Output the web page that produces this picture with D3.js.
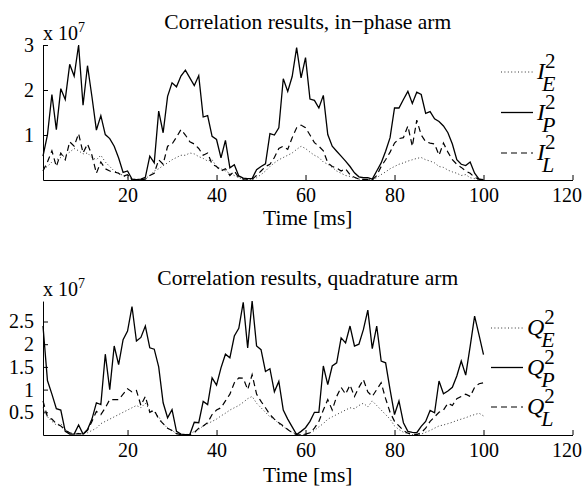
<!DOCTYPE html>
<html>
<head>
<meta charset="utf-8">
<script src="https://cdn.jsdelivr.net/npm/d3@7"></script>
<style>
body { margin: 0; background: #fff; }
svg { display: block; }
svg text { font-family: "Liberation Serif", "Times New Roman", serif; fill: #000; }
.axis path, .axis line { stroke: #000; stroke-width: 1; }
.axis text { font-size: 20px; }
.series { fill: none; stroke: #000; }
.series.E { stroke-width: 1; stroke-dasharray: 1 2.4; stroke: #333; }
.series.P { stroke-width: 1.3; }
.series.L { stroke-width: 1.2; stroke-dasharray: 6 4; }
.title, .xlabel { font-size: 21.5px; }
</style>
</head>
<body>
<div id="chart"></div>
<script>
// sample times [ms]
var time = [1,2,3,4,5,6,7,8,9,10,11,12,13,14,15,16,17,18,19,20,
  21,22,23,24,25,26,27,28,29,30,31,32,33,34,35,36,37,38,39,40,
  41,42,43,44,45,46,47,48,49,50,51,52,53,54,55,56,57,58,59,60,
  61,62,63,64,65,66,67,68,69,70,71,72,73,74,75,76,77,78,79,80,
  81,82,83,84,85,86,87,88,89,90,91,92,93,94,95,96,97,98,99,100];

// in-phase arm, x 10^7
var iE = [0.25,0.3,0.4,0.45,0.5,0.55,0.62,0.7,0.65,0.58,
  0.6,0.5,0.45,0.55,0.4,0.3,0.2,0.15,0.1,0.05,
  0.02,0.01,0.01,0.03,0.1,0.2,0.25,0.32,0.38,0.45,
  0.5,0.55,0.55,0.6,0.58,0.52,0.48,0.42,0.45,0.3,
  0.25,0.2,0.15,0.1,0.05,0.02,0.01,0.01,0.05,0.12,
  0.2,0.3,0.38,0.45,0.5,0.55,0.6,0.68,0.75,0.7,
  0.62,0.55,0.5,0.4,0.35,0.28,0.2,0.15,0.1,0.08,
  0.05,0.02,0.01,0.01,0.01,0.05,0.12,0.18,0.25,0.3,
  0.35,0.38,0.42,0.45,0.48,0.5,0.45,0.42,0.38,0.3,
  0.28,0.22,0.18,0.15,0.1,0.12,0.05,0.03,0.01,0.0];
var iP = [0.53,1.0,1.9,1.12,2.03,1.79,2.57,2.31,3.0,1.66,
  2.54,1.85,1.11,1.43,1.01,0.92,0.75,0.49,0.17,0.2,
  0.02,0.01,0.02,0.06,0.53,0.38,1.53,1.05,1.86,2.16,
  2.07,2.31,2.44,2.27,2.1,2.32,1.4,1.43,0.97,0.9,
  0.49,0.88,0.27,0.34,0.09,0.04,0.03,0.03,0.23,0.3,
  0.36,1.03,1.0,1.16,2.25,1.97,2.3,2.94,2.27,2.72,
  1.8,1.77,1.6,1.88,1.01,0.75,0.64,0.53,0.42,0.3,
  0.16,0.07,0.05,0.05,0.02,0.2,0.38,0.64,0.94,1.6,
  1.6,1.79,1.97,1.7,1.95,1.9,1.48,1.52,1.36,1.3,
  1.2,1.05,0.8,0.45,0.35,0.32,0.4,0.15,0.02,0.01];
var iL = [0.2,0.4,0.65,0.3,0.6,0.45,0.85,0.75,1.03,0.6,
  0.8,0.55,0.15,0.4,0.25,0.2,0.18,0.15,0.08,0.12,
  0.0,0.0,0.01,0.02,0.1,0.15,0.45,0.35,0.75,0.8,
  0.95,1.12,1.0,0.85,0.8,0.7,0.55,0.6,0.35,0.3,
  0.2,0.25,0.1,0.2,0.05,0.02,0.02,0.02,0.1,0.2,
  0.3,0.35,0.5,0.7,0.75,0.68,0.94,1.16,1.22,1.16,
  1.0,0.83,0.75,0.65,0.38,0.3,0.27,0.2,0.25,0.12,
  0.06,0.02,0.01,0.01,0.0,0.1,0.3,0.45,0.62,0.82,
  0.92,0.94,1.2,0.75,1.33,1.0,0.85,0.82,0.8,0.55,
  0.82,0.62,0.45,0.35,0.28,0.2,0.15,0.06,0.02,0.0];

// quadrature arm, x 10^7
var qE = [0.6,0.4,0.3,0.22,0.25,0.12,0.05,0.02,0.04,0.02,
  0.05,0.1,0.15,0.25,0.3,0.35,0.4,0.45,0.5,0.55,
  0.6,0.65,0.6,0.7,0.55,0.5,0.4,0.25,0.15,0.1,
  0.03,0.01,0.01,0.02,0.08,0.12,0.2,0.25,0.3,0.35,
  0.42,0.48,0.55,0.6,0.65,0.72,0.8,0.85,0.7,0.6,
  0.5,0.4,0.35,0.25,0.18,0.12,0.06,0.02,0.0,0.02,
  0.05,0.1,0.18,0.25,0.35,0.4,0.45,0.5,0.55,0.6,
  0.58,0.65,0.7,0.62,0.75,0.65,0.55,0.45,0.35,0.2,
  0.12,0.06,0.03,0.01,0.01,0.02,0.06,0.1,0.15,0.2,
  0.22,0.25,0.28,0.32,0.35,0.38,0.42,0.45,0.48,0.42];
var qP = [2.4,1.2,0.9,0.58,0.55,0.08,0.02,0.02,0.22,0.02,
  0.12,0.35,0.71,0.67,1.78,1.0,1.96,1.55,2.1,2.29,
  2.83,2.07,2.15,2.4,1.92,1.89,1.5,0.71,0.38,0.56,
  0.08,0.02,0.01,0.01,0.28,0.27,0.74,0.67,1.26,1.1,
  1.48,1.78,1.7,2.18,2.35,2.92,1.92,2.95,1.96,1.88,
  1.4,1.46,0.95,1.18,0.55,0.35,0.18,0.01,0.08,0.16,
  0.3,0.5,0.5,1.52,1.11,1.52,1.59,2.14,2.03,2.4,
  1.96,2.0,2.32,2.75,1.9,2.4,1.63,1.59,1.0,0.45,
  0.75,0.27,0.08,0.06,0.05,0.19,0.3,0.54,0.49,1.19,
  0.91,0.97,1.05,1.3,1.63,1.32,1.95,2.62,2.2,1.77];
var qL = [0.75,0.4,0.35,0.25,0.2,0.1,0.05,0.02,0.03,0.02,
  0.1,0.3,0.52,0.45,0.6,0.78,0.78,0.78,0.9,1.02,
  0.95,0.98,0.65,0.85,0.5,0.55,0.35,0.25,0.15,0.1,
  0.03,0.01,0.01,0.01,0.05,0.15,0.2,0.27,0.45,0.55,
  0.6,0.75,0.9,1.15,1.26,1.25,1.0,1.33,0.9,0.74,
  0.6,0.45,0.35,0.27,0.2,0.12,0.05,0.01,0.0,0.02,
  0.05,0.15,0.3,0.55,0.78,0.55,0.85,1.05,0.9,1.1,
  0.85,1.05,1.22,0.95,0.85,1.0,1.15,0.8,0.5,0.3,
  0.2,0.1,0.04,0.02,0.01,0.05,0.15,0.3,0.4,0.5,
  0.55,0.7,0.65,0.8,0.85,0.9,0.85,1.05,1.13,1.15];

var xTicks = [20, 40, 60, 80, 100, 120];
var yTicksTop = [1, 2, 3];
var yTicksBottom = [0.5, 1, 1.5, 2, 2.5];
var seriesKeys = ['E', 'P', 'L'];
var titles = ['Correlation results, in\u2212phase arm', 'Correlation results, quadrature arm'];
var symbols = ['I', 'Q'];
var xLabel = 'Time [ms]';

var width = 582, height = 489;

// layout of both panels (pixels)
var panels = [
  { title: titles[0], symbol: symbols[0], series: [iE, iP, iL], yTicks: yTicksTop,
    bottom: 180, unit: 45, labelDy: 45, legendX: 537, legendY: 72, legendStep: 40.5 },
  { title: titles[1], symbol: symbols[1], series: [qE, qP, qL], yTicks: yTicksBottom,
    bottom: 435, unit: 45.4, labelDy: 47, legendX: 527, legendY: 328, legendStep: 39.5 }
];

var svg = d3.select('#chart').append('svg')
  .attr('width', width)
  .attr('height', height);

var x = d3.scaleLinear().domain([1, 120]).range([43, 572.5]);
var cx = (x.range()[0] + x.range()[1])/2;

panels.forEach(function(p) {
  var ymax = d3.max(p.series, function(s) { return d3.max(s); });
  var y = d3.scaleLinear().domain([0, ymax]).range([p.bottom, p.bottom - ymax*p.unit]);
  var top = y(ymax);
  var g = svg.append('g');

  // axes, ticks pointing inwards
  var gx = g.append('g')
    .attr('class', 'axis axis-x')
    .attr('transform', 'translate(0,' + p.bottom + ')')
    .call(d3.axisBottom(x).tickValues(xTicks).tickSizeInner(-5).tickSizeOuter(0).tickPadding(8));
  // last label pulled in so it stays inside the page
  gx.select('.tick:last-of-type text')
    .attr('text-anchor', 'end')
    .attr('x', 9);
  g.append('g')
    .attr('class', 'axis axis-y')
    .attr('transform', 'translate(' + x.range()[0] + ',0)')
    .call(d3.axisLeft(y).tickValues(p.yTicks).tickSizeInner(-5).tickSizeOuter(0).tickPadding(9)
      .tickFormat(function(d) { return String(d); }));
  g.selectAll('.axis').attr('font-family', null).attr('font-size', null);

  // exponent label
  var ex = g.append('text')
    .attr('x', 43)
    .attr('y', top - 5)
    .attr('font-size', 20)
    .text('x 10');
  ex.append('tspan')
    .attr('dy', -8)
    .attr('font-size', 14)
    .text('7');

  g.append('text')
    .attr('class', 'title')
    .attr('x', cx)
    .attr('y', top - 16.5)
    .attr('text-anchor', 'middle')
    .text(p.title);

  g.append('text')
    .attr('class', 'xlabel')
    .attr('x', cx)
    .attr('y', p.bottom + p.labelDy)
    .attr('text-anchor', 'middle')
    .text(xLabel);

  // data lines
  var line = d3.line()
    .x(function(d) { return x(d[0]); })
    .y(function(d) { return y(d[1]); });
  p.series.forEach(function(s, i) {
    g.append('path')
      .attr('class', 'series ' + seriesKeys[i])
      .attr('d', line(time.map(function(t, j) { return [t, s[j]]; })));
  });

  // legend: symbol with superscript 2 and subscript E/P/L
  var lg = g.append('g').attr('class', 'legend');
  seriesKeys.forEach(function(k, i) {
    var ly = p.legendY + i*p.legendStep;
    lg.append('line')
      .attr('class', 'series ' + k)
      .attr('x1', p.legendX - 36)
      .attr('x2', p.legendX - 4)
      .attr('y1', ly)
      .attr('y2', ly);
    var main = lg.append('text')
      .attr('x', p.legendX)
      .attr('y', ly + 7)
      .attr('font-style', 'italic')
      .attr('font-size', 24)
      .text(p.symbol);
    var w = main.node().getComputedTextLength();
    lg.append('text')
      .attr('x', p.legendX + w)
      .attr('y', ly - 4)
      .attr('font-size', 21)
      .text('2');
    lg.append('text')
      .attr('x', p.legendX + w - 3)
      .attr('y', ly + 19)
      .attr('font-style', 'italic')
      .attr('font-size', 22)
      .text(k);
  });
});
</script>
</body>
</html>
